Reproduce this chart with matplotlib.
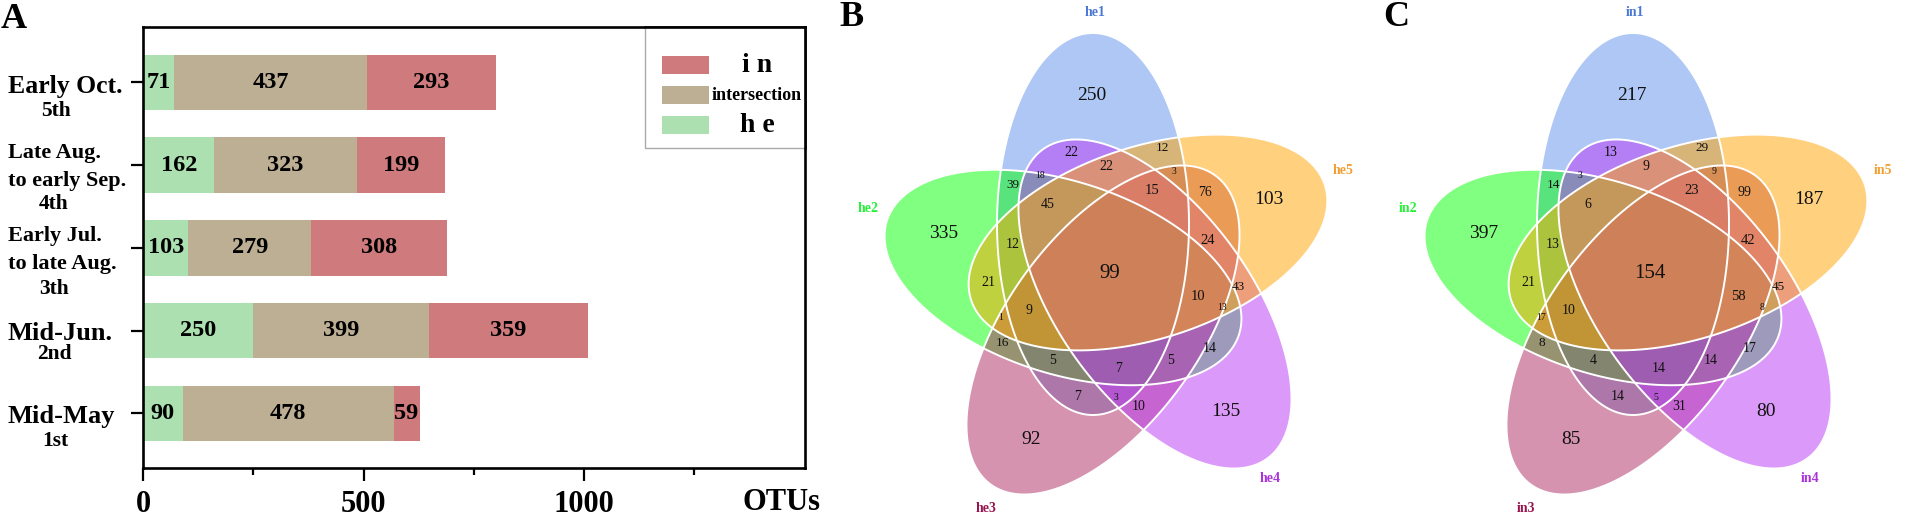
import numpy as np
import matplotlib
matplotlib.use("Agg")
import matplotlib.pyplot as plt
from matplotlib.patches import Polygon, Rectangle

plt.rcParams['font.family'] = ['Liberation Serif', 'DejaVu Serif']

# ---- data: panel A
stages = ["Mid-May", "Mid-Jun.", "Early Jul.", "Late Aug.", "Early Oct."]
he_vals = [90, 250, 103, 162, 71]
shared_vals = [478, 399, 279, 323, 437]
in_vals = [59, 359, 308, 199, 293]
legend_names = ["i n", "intersection", "h e"]

# ---- data: Venn counts (same region order in both panels)
he_set_names = ["he1", "he2", "he3", "he4", "he5"]
in_set_names = ["in1", "in2", "in3", "in4", "in5"]
he_counts = [250, 335, 92, 135, 103, 39, 12, 76, 10, 7,
             22, 22, 18, 3, 45, 12, 21, 1, 9, 16, 5, 7, 3, 5, 14, 13, 43, 10, 24, 15, 99]
in_counts = [217, 397, 85, 80, 187, 14, 29, 99, 31, 14,
             13, 9, 3, 9, 6, 13, 21, 17, 10, 8, 4, 14, 5, 14, 17, 8, 45, 58, 42, 23, 154]

# ---- styles and layout
W, H = 1905, 518
GREEN, TAN, ROSE = "#ace0b0", "#bdaf94", "#cf7a7c"
SET_COLORS = ["#6191eb", "#05ff05", "#ad2961", "#b937f5", "#ffa500"]
SET_TEXT = ["#4a78d2", "#28f03c", "#96144f", "#aa32dc", "#f0a032"]
ALPHA = 0.5

# region label positions for panel B (pixels); panel C is shifted by PANEL_DX
region_xy = [(1092, 95), (944, 233), (1031, 440), (1226, 411), (1269, 199),
             (1013, 185), (1162, 148), (1205, 193), (1139, 407), (1078, 396),
             (1071, 152), (1106, 166), (1040, 176), (1174, 171), (1048, 204),
             (1013, 244), (988, 283), (1001, 318), (1029, 311), (1002, 343),
             (1053, 361), (1119, 368), (1116, 397), (1171, 361), (1210, 349),
             (1222, 307), (1238, 287), (1198, 297), (1208, 240), (1152, 191), (1110, 274)]
region_size = [14, 14, 14, 14, 14, 9.5, 9.5, 10, 10, 10,
               10, 10, 7, 7, 10, 10, 10, 7, 10, 9.5, 10, 10, 7, 10, 10, 7, 9.5, 10.5, 10.5, 10.5, 15]
set_label_xy = [(1095, 12), (868, 208), (986, 508), (1270, 479), (1343, 171)]
PANEL_DX = 540
# ellipse geometry of panel B: centre (px), long half-axis, tilt step
petal_ctr = [(1093, 224), (1063, 277.5), (1103, 330), (1155, 304), (1148, 242.5)]
petal_a = [191, 185, 191, 191, 186]
B_SEMI = 96.0

fig = plt.figure(figsize=(W / 100, H / 100), dpi=100, facecolor="white")


def box(l, t, r, b):
    return [l / W, 1 - b / H, (r - l) / W, (b - t) / H]


# ---- panel A
ax = fig.add_axes(box(143, 27, 805, 468))
pos = np.arange(len(stages))
he_a, sh_a, in_a = map(np.array, (he_vals, shared_vals, in_vals))
ax.barh(pos, he_a, height=0.67, color=GREEN)
ax.barh(pos, sh_a, height=0.67, left=he_a, color=TAN)
ax.barh(pos, in_a, height=0.67, left=he_a + sh_a, color=ROSE)
for i in pos:
    for val, start in ((he_a[i], 0), (sh_a[i], he_a[i]), (in_a[i], he_a[i] + sh_a[i])):
        ax.text(start + val / 2, i, str(val), ha="center", va="center",
                fontsize=17.5, fontweight="bold", color="black")
ax.set_xlim(0, 1501)
ax.set_ylim(-0.66, 4.67)
ax.set_yticks(pos)
ax.set_yticklabels([])
ax.set_xticks([0, 500, 1000])
ax.set_xticks([250, 750, 1250], minor=True)
ax.set_xticklabels(["0", "500", "1000"], fontsize=22, fontweight="bold")
ax.tick_params(axis="x", which="major", length=9, width=1.6, pad=7)
ax.tick_params(axis="x", which="minor", length=5, width=1.6)
ax.tick_params(axis="y", length=9, width=1.6)
for s in ax.spines.values():
    s.set_linewidth(1.9)

# ---- overlay in pixel coordinates
ov = fig.add_axes([0, 0, 1, 1], facecolor="none")
ov.set_xlim(0, W)
ov.set_ylim(H, 0)
ov.axis("off")

for ch, x, y in (("A", 14, 20), ("B", 851, 18), ("C", 1396, 18)):
    ov.text(x, y, ch, fontsize=26, fontweight="bold", ha="center", va="center")

ov.text(8, 86, "Early Oct.", fontsize=18.5, fontweight="bold", va="center")
ov.text(56, 111, "5th", fontsize=15.5, fontweight="bold", ha="center", va="center")
ov.text(8, 153, "Late Aug.", fontsize=16, fontweight="bold", va="center")
ov.text(8, 181, "to early Sep.", fontsize=16, fontweight="bold", va="center")
ov.text(54, 204, "4th", fontsize=15.5, fontweight="bold", ha="center", va="center")
ov.text(8, 236, "Early Jul.", fontsize=16, fontweight="bold", va="center")
ov.text(8, 264, "to late Aug.", fontsize=16, fontweight="bold", va="center")
ov.text(54, 289, "3th", fontsize=15.5, fontweight="bold", ha="center", va="center")
ov.text(8, 333, "Mid-Jun.", fontsize=19, fontweight="bold", va="center")
ov.text(54, 354, "2nd", fontsize=15.5, fontweight="bold", ha="center", va="center")
ov.text(8, 417, "Mid-May", fontsize=19, fontweight="bold", va="center")
ov.text(55, 441, "1st", fontsize=15.5, fontweight="bold", ha="center", va="center")
ov.text(782, 503, "OTUs", fontsize=22, fontweight="bold", ha="center", va="center")

# legend
ov.add_patch(Rectangle((645, 27), 160, 121, fc="white", ec="#aaaaaa", lw=1, zorder=1))
ov.plot([645, 805], [27, 27], color="black", lw=1.9, zorder=2)
ov.plot([805, 805], [27, 148], color="black", lw=1.9, zorder=2)
for name, col, ty, sy, fs in zip(legend_names, (ROSE, TAN, GREEN),
                                 (65, 95, 126), (56, 86, 116), (20, 13, 20)):
    ov.add_patch(Rectangle((662, sy), 47, 18, fc=col, ec="none", zorder=2))
    ov.text(757, ty, name, fontsize=fs, fontweight="bold", ha="center", va="center", zorder=3)


def petal(k, dx):
    th = np.deg2rad(72 * k)
    c, s = np.cos(th), np.sin(th)
    t = np.linspace(0, 2 * np.pi, 361)
    ex, ey = B_SEMI * np.cos(t), petal_a[k] * np.sin(t)
    return np.column_stack((petal_ctr[k][0] + dx + ex * c + ey * s,
                            petal_ctr[k][1] - ex * s + ey * c))


def venn(names, counts, dx):
    for k in range(5):
        ov.add_patch(Polygon(petal(k, dx), closed=True, fc=SET_COLORS[k], ec="none",
                             alpha=ALPHA, zorder=2))
    for k in range(5):
        ov.add_patch(Polygon(petal(k, dx), closed=True, fc="none", ec="white", lw=1.4, zorder=3))
    for val, (x, y), fs in zip(counts, region_xy, region_size):
        ov.text(x + dx, y, str(val), fontsize=fs, ha="center", va="center",
                color="#111111", zorder=4)
    for k, name in enumerate(names):
        x, y = set_label_xy[k]
        ov.text(x + dx, y, name, fontsize=10, fontweight="bold", color=SET_TEXT[k],
                ha="center", va="center", zorder=4)


venn(he_set_names, he_counts, 0)
venn(in_set_names, in_counts, PANEL_DX)

fig.savefig("out.png", dpi=100, facecolor="white")
